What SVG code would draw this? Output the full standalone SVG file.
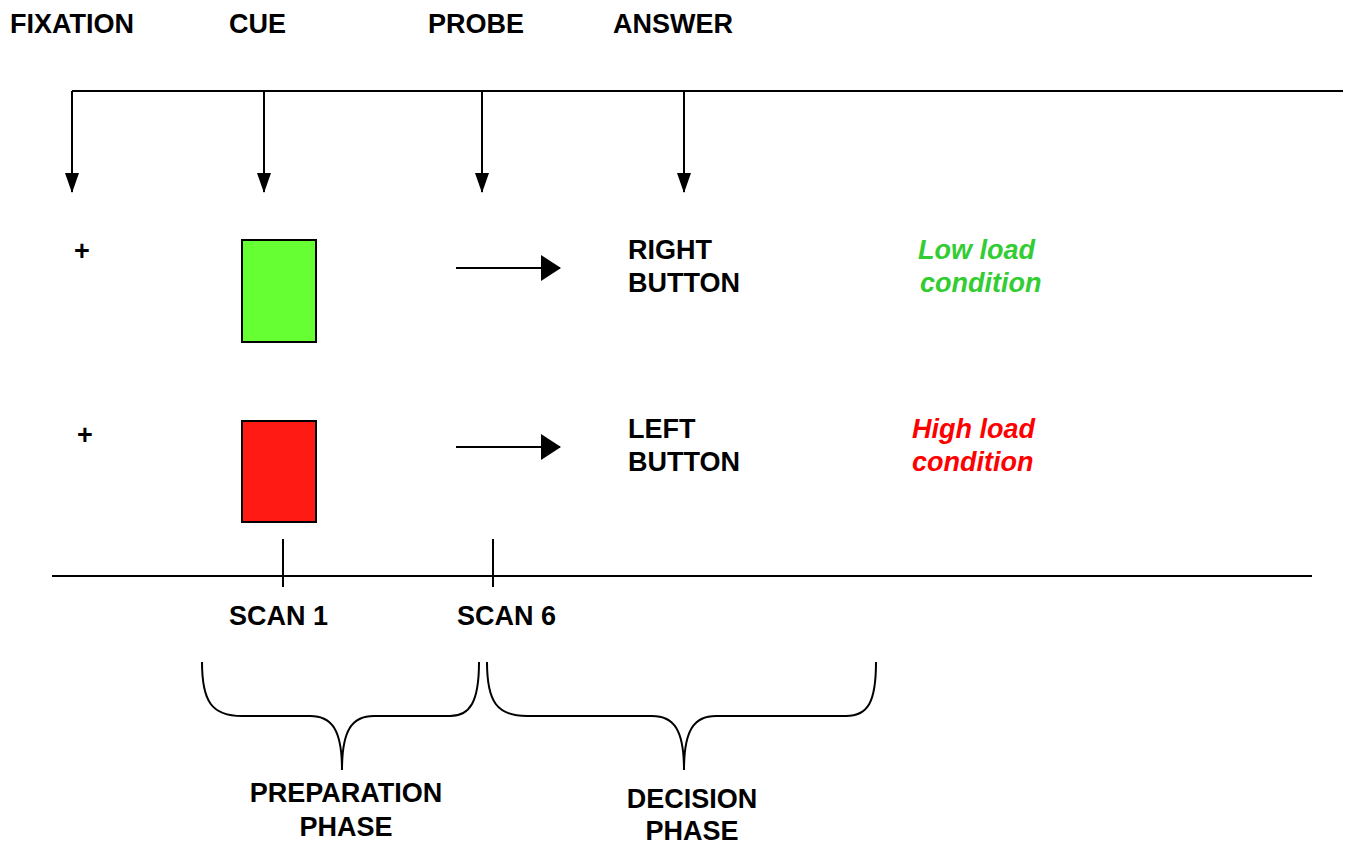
<svg xmlns="http://www.w3.org/2000/svg" width="1352" height="844" viewBox="0 0 1352 844">
<defs>
<marker id="ah" markerWidth="20" markerHeight="14" refX="19" refY="7" orient="auto" markerUnits="userSpaceOnUse" viewBox="0 0 20 14">
<path d="M0,0 L20,7 L0,14 Z" fill="#000"/>
</marker>
<marker id="ahr" markerWidth="20" markerHeight="26" refX="19" refY="13" orient="auto" markerUnits="userSpaceOnUse" viewBox="0 0 20 26">
<path d="M0,0 L20,13 L0,26 Z" fill="#000"/>
</marker>
</defs>
<style>
.t{font-family:"Liberation Sans",Arial,sans-serif;font-weight:bold;font-size:27px;fill:#000}
.i{font-family:"Liberation Sans",Arial,sans-serif;font-weight:bold;font-style:italic;font-size:27px}
.ln{stroke:#000;stroke-width:2;fill:none}
</style>
<rect width="1352" height="844" fill="#fff"/>
<g id="labels-top">
<text class="t" x="10" y="33">FIXATION</text>
<text class="t" x="229" y="33">CUE</text>
<text class="t" x="428" y="33">PROBE</text>
<text class="t" x="613" y="33">ANSWER</text>
</g>
<g id="connectors">
<line class="ln" x1="72" y1="91" x2="1343" y2="91"/>
<line class="ln" x1="72" y1="91" x2="72" y2="192" marker-end="url(#ah)"/>
<line class="ln" x1="264" y1="91" x2="264" y2="192" marker-end="url(#ah)"/>
<line class="ln" x1="482" y1="91" x2="482" y2="192" marker-end="url(#ah)"/>
<line class="ln" x1="684" y1="91" x2="684" y2="192" marker-end="url(#ah)"/>
<line class="ln" x1="456" y1="268" x2="560" y2="268" marker-end="url(#ahr)"/>
<line class="ln" x1="456" y1="447" x2="560" y2="447" marker-end="url(#ahr)"/>
</g>
<g id="fixation-low"><text class="t" x="82" y="260" text-anchor="middle" font-size="22">+</text></g>
<g id="fixation-high"><text class="t" x="85" y="444" text-anchor="middle" font-size="22">+</text></g>
<g id="cue-green"><rect x="242" y="240" width="74" height="102" fill="#66ff33" stroke="#000" stroke-width="2"/></g>
<g id="cue-red"><rect x="242" y="421" width="74" height="101" fill="#ff1a14" stroke="#000" stroke-width="2"/></g>
<g id="answer-right">
<text class="t" x="628" y="259">RIGHT</text>
<text class="t" x="628" y="292">BUTTON</text>
</g>
<g id="answer-left">
<text class="t" x="628" y="438">LEFT</text>
<text class="t" x="628" y="471">BUTTON</text>
</g>
<g id="low-load">
<text class="i" x="918" y="259" fill="#33cc33">Low load</text>
<text class="i" x="920" y="292" fill="#33cc33">condition</text>
</g>
<g id="high-load">
<text class="i" x="912" y="438" fill="#ff0000">High load</text>
<text class="i" x="912" y="471" fill="#ff0000">condition</text>
</g>
<g id="timeline">
<line class="ln" x1="52" y1="576" x2="1312" y2="576"/>
<line class="ln" x1="283" y1="539" x2="283" y2="587"/>
<line class="ln" x1="493" y1="539" x2="493" y2="587"/>
<text class="t" x="229" y="625">SCAN 1</text>
<text class="t" x="457" y="625">SCAN 6</text>
</g>
<g id="preparation">
<path class="ln" d="M202,662 C202,702 212,716 242,716 L310,716 C332,716 342,730 342,770 C342,730 352,716 374,716 L450,716 C470,716 479,702 479,662"/>
<text class="t" x="346" y="802" text-anchor="middle">PREPARATION</text>
<text class="t" x="346" y="836" text-anchor="middle">PHASE</text>
</g>
<g id="decision">
<path class="ln" d="M487,662 C487,702 497,716 527,716 L652,716 C674,716 684,730 684,770 C684,730 694,716 716,716 L846,716 C868,716 876,702 876,662"/>
<text class="t" x="692" y="808" text-anchor="middle">DECISION</text>
<text class="t" x="692" y="840" text-anchor="middle">PHASE</text>
</g>
</svg>
